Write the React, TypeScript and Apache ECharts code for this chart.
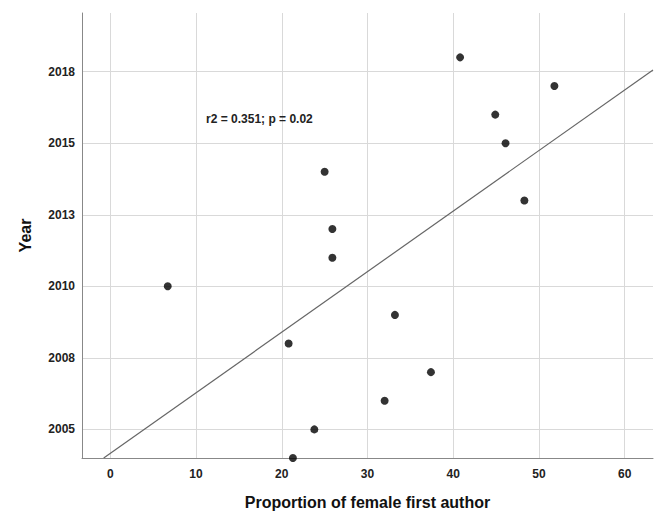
import React, { useEffect, useRef } from "react";
import * as echarts from "echarts";

const proportion = [6.7, 20.8, 21.3, 23.8, 32.0, 37.4, 33.2, 25.9, 25.9, 25.0, 40.8, 44.9, 46.1, 48.3, 51.8];
const years = [2010, 2008, 2004, 2005, 2006, 2007, 2009, 2011, 2012, 2014, 2018, 2016, 2015, 2013, 2017];
const fitLine = [[-0.77, 2004], [63.3, 2017.56]];
const xTicks = [0, 10, 20, 30, 40, 50, 60];
const yTicks = [2005, 2007.5, 2010, 2012.5, 2015, 2017.5];
const annotation = "r2 = 0.351; p = 0.02";

export default function App() {
  const ref = useRef<HTMLDivElement>(null);
  useEffect(() => {
    const chart = echarts.init(ref.current!, null, { renderer: "svg" });
    const font = "'Liberation Sans', Arial, sans-serif";
    chart.setOption({
      animation: false,
      backgroundColor: "#ffffff",
      grid: { left: 82, right: 4, top: 13, bottom: 53, outerBoundsMode: "none", containLabel: false },
      xAxis: {
        type: "value",
        min: -3.3,
        max: 63.3,
        name: "Proportion of female first author",
        nameLocation: "middle",
        nameGap: 36,
        nameTextStyle: { fontFamily: font, fontSize: 16, fontWeight: "bold", color: "#111" },
        axisLine: { show: true, onZero: false, lineStyle: { color: "#888", width: 1 } },
        axisTick: { show: false, customValues: xTicks },
        axisLabel: {
          customValues: xTicks,
          fontFamily: font,
          fontWeight: "bold",
          fontSize: 12,
          color: "#222",
          margin: 10,
        },
        splitLine: { show: true, lineStyle: { color: "#d9d9d9", width: 1 } },
      },
      yAxis: {
        type: "value",
        min: 2004,
        max: 2019.55,
        name: "Year",
        nameLocation: "middle",
        nameGap: 49,
        nameRotate: 90,
        nameTextStyle: { fontFamily: font, fontSize: 16, fontWeight: "bold", color: "#111" },
        axisLine: { show: true, onZero: false, lineStyle: { color: "#888", width: 1 } },
        axisTick: { show: false, customValues: yTicks },
        axisLabel: {
          customValues: yTicks,
          formatter: (v: number) => String(Math.round(v)),
          fontFamily: font,
          fontWeight: "bold",
          fontSize: 12,
          color: "#222",
          margin: 7,
        },
        splitLine: { show: true, lineStyle: { color: "#d9d9d9", width: 1 } },
      },
      graphic: [
        {
          type: "text",
          left: 206,
          top: 113,
          z: 10,
          style: {
            text: annotation,
            fontFamily: font,
            fontWeight: "bold",
            fontSize: 12,
            fill: "#222",
          },
        },
      ],
      series: [
        {
          type: "line",
          data: fitLine,
          showSymbol: false,
          lineStyle: { color: "#666", width: 1.2 },
          silent: true,
          z: 2,
        },
        {
          type: "scatter",
          data: proportion.map((p, i) => [p, years[i]]),
          symbolSize: 8,
          itemStyle: { color: "#000" },
          z: 3,
        },
      ],
    });
    return () => chart.dispose();
  }, []);
  return <div ref={ref} style={{ width: 657, height: 511, position: "absolute", left: 0, top: 0 }} />;
}
